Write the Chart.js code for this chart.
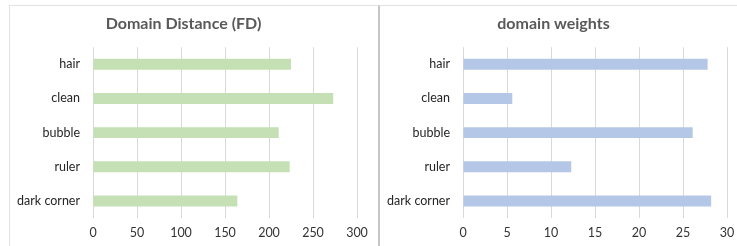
<!DOCTYPE html>
<html>
<head>
<meta charset="utf-8">
<script src="https://cdn.jsdelivr.net/npm/chart.js@4/dist/chart.umd.min.js"></script>
<style>
    html, body { margin: 0; padding: 0; background: #fff; width: 737px; height: 246px; overflow: hidden; }
    .panel { position: absolute; top: 5px; height: 241px; border-top: 1px solid #e2e2e2; overflow: hidden; background: #fff; }
    #left  { left: 9px;  width: 368px; border-left: 1px solid #e2e2e2; }
    #right { left: 378px; width: 359px; border-left: 2px solid #c6c6c6; }
    canvas { display: block; }
</style>
</head>
<body>
<div class="panel" id="left"><canvas id="fdChart" width="369" height="240"></canvas></div>
<div class="panel" id="right"><canvas id="wChart" width="369" height="240"></canvas></div>
<script>
const categories = ['hair', 'clean', 'bubble', 'ruler', 'dark corner'];
const fdValues     = [225, 273, 211, 223.5, 164];
const weightValues = [27.8, 5.6, 26.1, 12.3, 28.2];
const fdTicks      = [0, 50, 100, 150, 200, 250, 300];
const weightTicks  = [0, 5, 10, 15, 20, 25, 30];

Chart.defaults.font.family = 'Lato, "Open Sans", sans-serif';
Chart.defaults.color = '#404040';

function makeChart(id, title, values, ticks, color) {
    const ctx = document.getElementById(id).getContext('2d');
    return new Chart(ctx, {
        type: 'bar',
        data: {
            labels: categories,
            datasets: [{
                data: values,
                backgroundColor: color,
                borderWidth: 0,
                barPercentage: 0.32,
                categoryPercentage: 1
            }]
        },
        options: {
            indexAxis: 'y',
            responsive: false,
            animation: false,
            layout: { padding: { left: 0, right: 22, top: 0, bottom: 0 } },
            plugins: {
                legend: { display: false },
                tooltip: { enabled: false },
                title: {
                    display: true,
                    text: title,
                    color: '#595959',
                    font: { size: 16, weight: 'bold' },
                    padding: { top: 8, bottom: 14 }
                }
            },
            scales: {
                x: {
                    min: ticks[0],
                    max: ticks[ticks.length - 1],
                    afterBuildTicks: axis => { axis.ticks = ticks.map(v => ({ value: v })); },
                    grid: { color: '#d9d9d9', lineWidth: 1, drawTicks: false },
                    border: { display: false },
                    ticks: { padding: 7, font: { size: 12.5 }, color: '#333333', maxRotation: 0 },
                    afterFit: axis => { axis.height = 28; }
                },
                y: {
                    grid: { display: false, drawTicks: false },
                    border: { display: false },
                    ticks: { padding: 13, font: { size: 12.5 }, color: '#262626' },
                    afterFit: axis => { axis.width = 83; }
                }
            }
        }
    });
}

makeChart('fdChart', 'Domain Distance (FD)', fdValues, fdTicks, '#c5e0b4');
makeChart('wChart', 'domain weights', weightValues, weightTicks, '#b4c7e7');
</script>
</body>
</html>
